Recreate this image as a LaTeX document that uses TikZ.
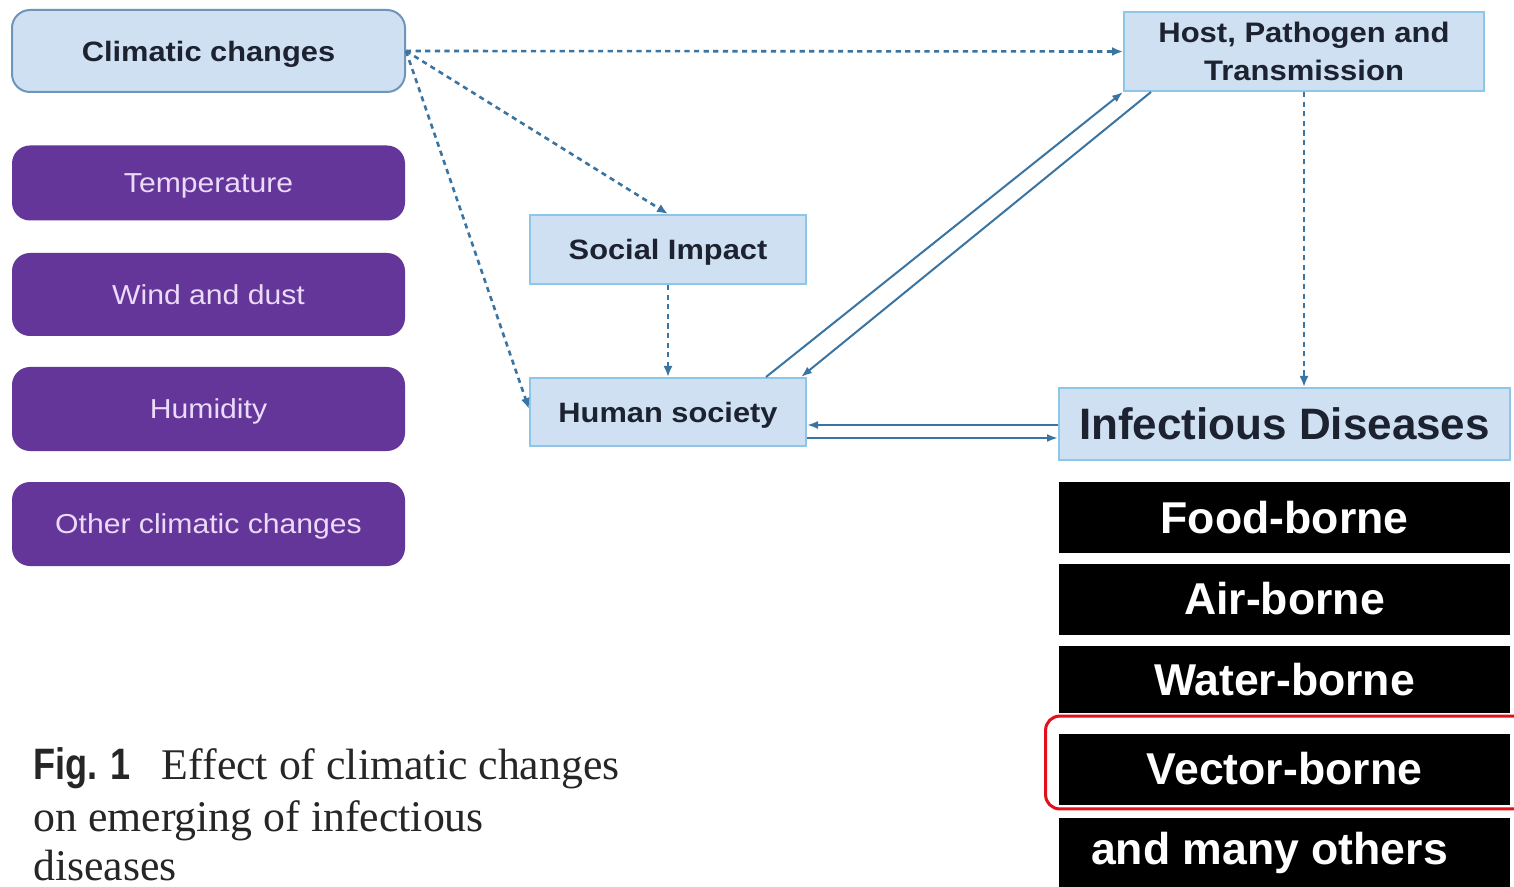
\documentclass[tikz,border=0pt]{standalone}
\usepackage{fontspec}
\setmainfont{Liberation Serif}
\newfontfamily\dgfont[FakeStretch=1.1]{Liberation Sans}
\newfontfamily\bigfont{Liberation Sans}
\newfontfamily\figfont[FakeStretch=0.82]{Liberation Sans}
\usetikzlibrary{calc,arrows.meta}
\definecolor{boxfill}{HTML}{CFE0F2}
\definecolor{climborder}{HTML}{7095BA}
\definecolor{boxborder}{HTML}{8EC6E8}
\definecolor{purp}{HTML}{65369A}
\definecolor{lav}{HTML}{EBDAF8}
\definecolor{conn}{HTML}{3A74A2}
\definecolor{redframe}{HTML}{E3101B}
\definecolor{darktext}{HTML}{1C2230}
\tikzset{
  climbox/.style={draw=climborder, line width=1pt, fill=boxfill, rounded corners=9pt,
    minimum width=196.5pt, minimum height=41pt, inner sep=0pt, text=darktext, text depth=0pt,
    font=\dgfont\bfseries\fontsize{14}{16}\selectfont},
  factor/.style={fill=purp, rounded corners=9pt, minimum width=196.5pt, inner sep=0pt,
    text=lav, text depth=0pt, font=\dgfont\fontsize{13.7}{16}\selectfont},
  bluebox/.style={draw=boxborder, line width=1pt, fill=boxfill, inner sep=0pt, text=darktext,
    font=\dgfont\bfseries\fontsize{14}{16}\selectfont},
  blackbox/.style={fill=black, text=white, minimum width=225.5pt, inner sep=0pt,
    font=\bigfont\bfseries\fontsize{22.3}{26}\selectfont},
  dashconn/.style={draw=conn, line width=1.3pt, dash pattern=on 2.6pt off 2.2pt,
    -{Latex[length=5.5pt,width=4.5pt]}},
  solidconn/.style={draw=conn, line width=1pt, -{Latex[length=5.5pt,width=4pt]}},
  capline/.style={anchor=base west, inner sep=0pt, text=black!85,
    font=\fontsize{21.9}{26}\selectfont}
}
\begin{document}
\begin{tikzpicture}[x=0.5pt,y=-0.5pt]
\fill[white] (0,0) rectangle (1514,887);
\useasboundingbox (0,0) rectangle (1514,887);

% left column
\node[climbox] (clim) at (208.5,51) {Climatic changes};
\node[factor, minimum height=37.5pt] (temp) at (208.5,183) {Temperature};
\node[factor, minimum height=41.5pt] (wind) at (208.5,294.5) {Wind and dust};
\node[factor, minimum height=42pt] (humid) at (208.5,409) {Humidity};
\node[factor, minimum height=42pt] (other) at (208.5,524) {Other climatic changes};

% middle
\node[bluebox, text depth=0pt, minimum width=138pt, minimum height=34.5pt] (social) at (668,249.5) {Social Impact};
\node[bluebox, text depth=0pt, minimum width=138pt, minimum height=34pt] (human) at (668,412) {Human society};

% right
\node[bluebox, minimum width=180pt, minimum height=39.5pt, align=center,
  font=\dgfont\bfseries\fontsize{14.1}{19}\selectfont] (host) at (1304,51.5) {Host, Pathogen and\\Transmission};
\node[bluebox, minimum width=225.5pt, minimum height=36pt,
  font=\bigfont\bfseries\fontsize{22}{26}\selectfont] (inf) at (1284.5,424) {Infectious Diseases};

\node[blackbox, minimum height=35.5pt] (food) at (1284.5,517.5) {Food-borne};
\node[blackbox, minimum height=35.5pt] (air) at (1284.5,599) {Air-borne};
\node[blackbox, minimum height=33.5pt] (water) at (1284.5,679.5) {Water-borne};
\node[blackbox, minimum height=35.5pt] (vector) at (1284.5,769) {Vector-borne};
\node[blackbox, minimum height=35pt] (others) at (1284.5,853) {and many others\kern15pt};

% red highlight frame (open on the right)
\draw[redframe, line width=1.5pt, rounded corners=7pt]
  ($(vector.north east)+(20,-17)$) -- ($(vector.north west)+(-13,-17)$)
  -- ($(vector.south west)+(-13,4)$) -- ($(vector.south east)+(20,4)$);

% connectors
\draw[dashconn] (clim.east) -- (host.west);
\draw[dashconn] (clim.east) -- (social.north);
\draw[dashconn] (clim.east) -- ($(human.west)+(0,-3)$);
\draw[dashconn] (social.south) -- (human.north);
\draw[dashconn] (host.south) -- (host.south |- inf.north);
\draw[solidconn] ($(human.north east)+(-41,0)$) -- (host.south west);
\draw[solidconn] ($(host.south west)+(28,0)$) -- ($(human.north east)+(-6,0)$);
\coordinate (p1) at ($(inf.west)+(0,1)$);
\coordinate (p2) at ($(inf.west)+(0,14)$);
\draw[solidconn] (p1) -- (human.east |- p1);
\draw[solidconn] (human.east |- p2) -- (p2);

% caption
\node[capline] (cap1) at (33,779) {{\figfont\bfseries\fontsize{22}{26}\selectfont Fig. 1}\hspace{15.5pt}Effect of climatic changes};
\node[capline] (cap2) at (33,831) {on emerging of infectious};
\node[capline] (cap3) at (33,880) {diseases};
\end{tikzpicture}
\end{document}
